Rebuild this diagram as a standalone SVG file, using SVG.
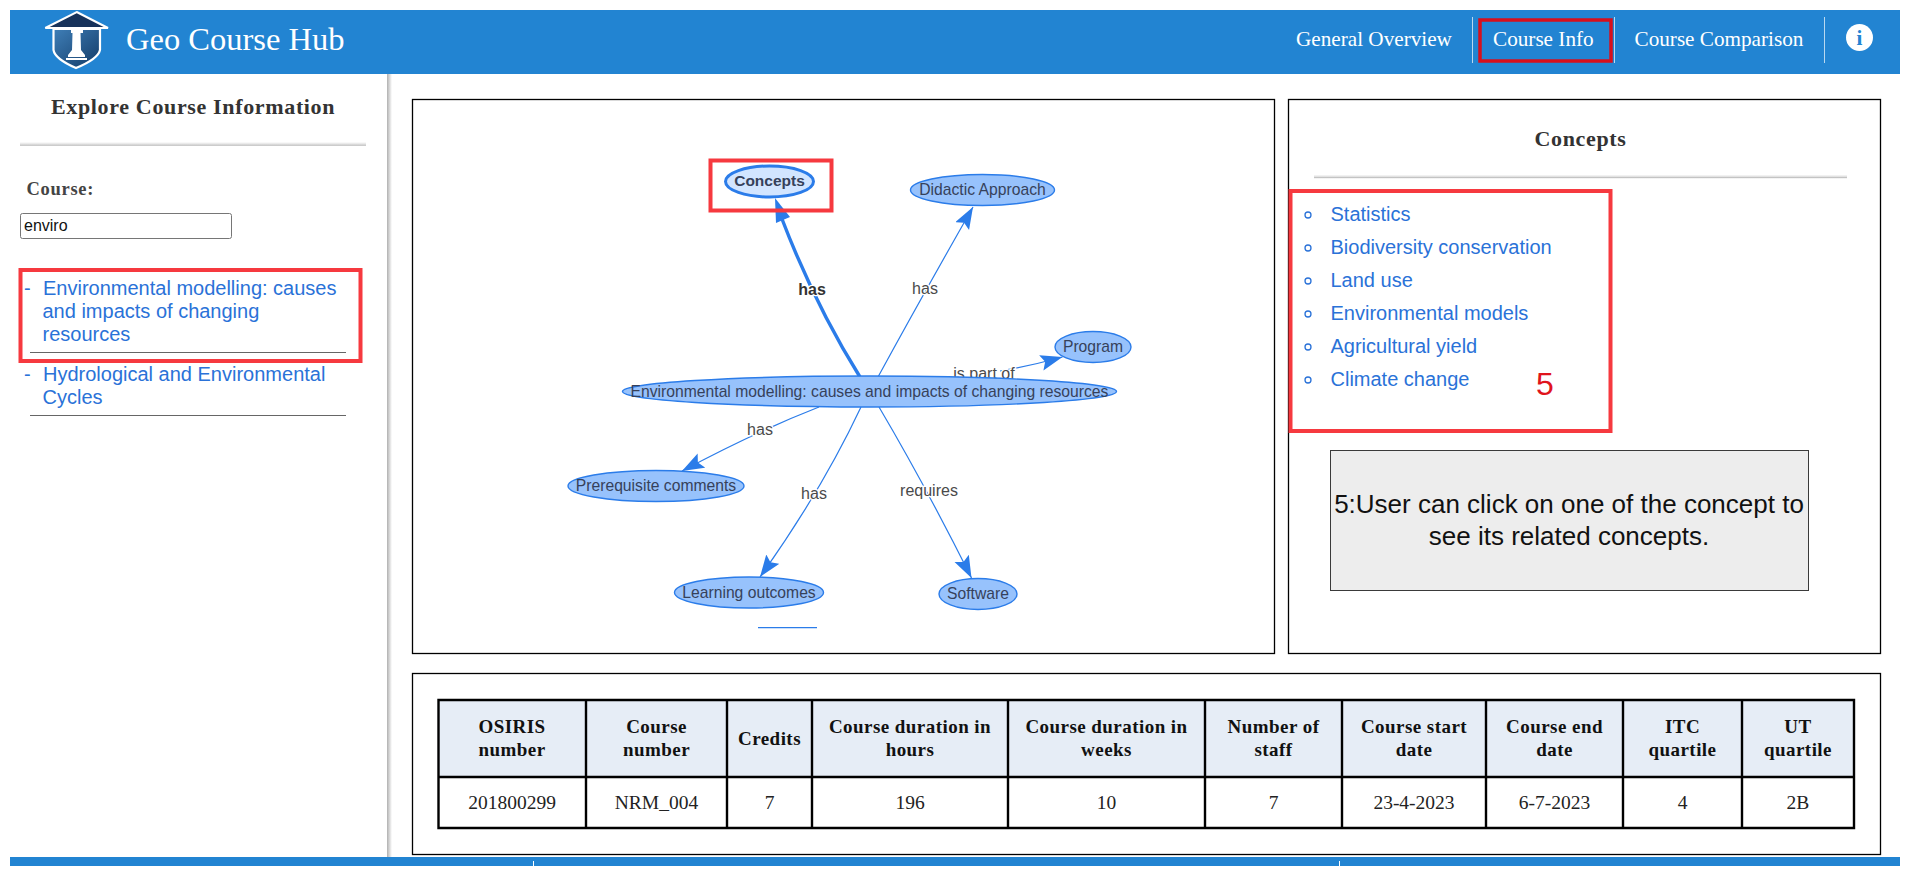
<svg xmlns="http://www.w3.org/2000/svg" width="1910" height="876" viewBox="0 0 1910 876">
<style>
text{font-family:"Liberation Sans",Arial,sans-serif}
.s{font-family:"Liberation Serif","Times New Roman",serif}
.nav{font-size:21.200px;fill:#fff}
.h{font-size:22px;font-weight:bold;fill:#333;letter-spacing:.65px}
.lnk{font-size:20px;fill:#2a72d8}
.panel{fill:#fff;stroke:#000;stroke-width:1.3}
.red{fill:none;stroke:#f6393f;stroke-width:4}
.node ellipse{fill:#97C2FC;stroke:#2B7CE9;stroke-width:1.4}
.node text{font-size:15.700px;fill:#36415a;text-anchor:middle}
.e{fill:none;stroke:#2B7CE9;stroke-width:1.2}
.el{font-size:16px;fill:#4a4a4a;text-anchor:middle;stroke:#fff;stroke-width:2.5px;paint-order:stroke}
.th{font-size:19px;font-weight:bold;fill:#111;text-anchor:middle;letter-spacing:.45px}
.td{font-size:19.500px;fill:#222;text-anchor:middle}
.cell{stroke:#000;stroke-width:2.4;fill:none}
.b{fill:none;stroke:#2a72d8;stroke-width:1.3}
</style>
<defs>
<linearGradient id="sh" x1="0" x2="1" y1="0" y2="0"><stop offset="0" stop-color="#b0b0b0"/><stop offset="1" stop-color="#fff"/></linearGradient>
<linearGradient id="hr" x1="0" x2="0" y1="0" y2="1"><stop offset="0" stop-color="#fff"/><stop offset=".6" stop-color="#ddd"/><stop offset=".8" stop-color="#bbb"/><stop offset="1" stop-color="#e8e8e8"/></linearGradient>
<linearGradient id="shield" x1="0" x2="1" y1="0" y2="1"><stop offset="0" stop-color="#3f7fb8"/><stop offset="1" stop-color="#123a66"/></linearGradient>
<marker id="ar" markerUnits="userSpaceOnUse" markerWidth="24" markerHeight="18" refX="22" refY="8" orient="auto"><path d="M0 0L22 8L0 16L4 8Z" fill="#2B7CE9"/></marker>
</defs>
<rect width="1910" height="876" fill="#fff"/>

<g id="header">
<rect x="10" y="10" width="1890" height="64" fill="#2284d2"/>
<g id="logo">
<path d="M53.500 29V50Q55 59 76 68Q98 59 100 50V29Z" fill="url(#shield)" stroke="#fff" stroke-width="2.200"/>
<path d="M76.700 12L108 28H45.300Z" fill="#17325a" stroke="#fff" stroke-width="2"/>
<path d="M71 30H83V33H80.500L81 50L85 55V57H68V55L72 50L72.500 33H71Z" fill="#fff"/>
<rect x="66" y="58" width="21" height="2" fill="#fff"/>
</g>
<text x="126" y="50" class="s" font-size="32.500" fill="#fff">Geo Course Hub</text>
<text x="1296" y="45.500" class="s nav">General Overview</text>
<path d="M1472.500 17V63M1614.500 17V63M1824.500 17V63" stroke="#b9d8f0" stroke-width="1"/>
<rect x="1480" y="20" width="131" height="41" fill="none" stroke="#d80f1c" stroke-width="3.500"/>
<text x="1493" y="45.500" class="s nav">Course Info</text>
<text x="1634.500" y="45.500" class="s nav">Course Comparison</text>
<circle cx="1859.500" cy="37.500" r="13.500" fill="#fff"/>
<text x="1859.500" y="45" class="s" font-size="21" font-weight="bold" fill="#2284d2" text-anchor="middle">i</text>
</g>

<g id="sidebar">
<rect x="387" y="74" width="5" height="783" fill="url(#sh)"/>
<text x="51" y="114" class="s h">Explore Course Information</text>
<rect x="20" y="142" width="346" height="4" fill="url(#hr)"/>
<text x="26.500" y="195" class="s" font-size="18.500" font-weight="bold" fill="#444" letter-spacing=".7">Course:</text>
<rect x="20.500" y="213.500" width="211" height="25" rx="2" fill="#fff" stroke="#767676" stroke-width="1"/>
<text x="24" y="231" font-size="16" fill="#111">enviro</text>
<rect class="red" x="20.500" y="270" width="340" height="91"/>
<text x="24" y="295" class="lnk">-</text>
<text x="43" y="295" class="lnk">Environmental modelling: causes</text>
<text x="42.500" y="318" class="lnk">and impacts of changing</text>
<text x="42.500" y="341" class="lnk">resources</text>
<path d="M30 352.500H346M30 415.500H346" stroke="#666" stroke-width="1"/>
<text x="24" y="381" class="lnk">-</text>
<text x="43" y="381" class="lnk">Hydrological and Environmental</text>
<text x="42.500" y="404" class="lnk">Cycles</text>
</g>

<rect class="panel" x="412.500" y="99.500" width="862" height="554"/>
<rect class="panel" x="1288.500" y="99.500" width="592" height="554"/>
<rect class="panel" x="412.500" y="673.500" width="1468" height="181"/>

<g id="connectors">
<path class="e" style="stroke-width:3.400" d="M860 377Q815 305 782 219"/>
<path d="M775 198L790 217L776 223Z" fill="#2B7CE9"/>
<path class="e" d="M878 377Q920 300 973 207" marker-end="url(#ar)"/>
<path class="e" d="M1000 371Q1030 366 1062.500 357" marker-end="url(#ar)"/>
<path class="e" d="M819 407Q755 432 682 471" marker-end="url(#ar)"/>
<path class="e" d="M861 407Q822 490 760 577" marker-end="url(#ar)"/>
<path class="e" d="M879 407Q925 485 971.500 578" marker-end="url(#ar)"/>
<text class="el" x="812" y="295" style="font-weight:bold;fill:#333">has</text>
<text class="el" x="925" y="294">has</text>
<text class="el" x="984" y="379">is part of</text>
<text class="el" x="760" y="435">has</text>
<text class="el" x="814" y="499">has</text>
<text class="el" x="929" y="496">requires</text>
</g>

<g id="node-concepts" class="node"><ellipse cx="769.500" cy="181.500" rx="44" ry="15.500" style="fill:#d2e5ff;stroke-width:3"/><text x="769.500" y="186" style="font-weight:bold;font-size:15.500px">Concepts</text></g>
<g id="node-didactic" class="node"><ellipse cx="982.500" cy="190" rx="72" ry="15.500"/><text x="982.500" y="195">Didactic Approach</text></g>
<g id="node-program" class="node"><ellipse cx="1093" cy="347" rx="38" ry="15.500"/><text x="1093" y="352">Program</text></g>
<g id="node-main" class="node"><ellipse cx="869.500" cy="391.500" rx="247" ry="15.500"/><text x="869.500" y="396.500">Environmental modelling: causes and impacts of changing resources</text></g>
<g id="node-prereq" class="node"><ellipse cx="656" cy="486" rx="88" ry="15.500"/><text x="656" y="491">Prerequisite comments</text></g>
<g id="node-learning" class="node"><ellipse cx="749" cy="592.500" rx="74.500" ry="15.500"/><text x="749" y="597.500">Learning outcomes</text></g>
<g id="node-software" class="node"><ellipse cx="978" cy="594" rx="39" ry="15.500"/><text x="978" y="599">Software</text></g>
<path id="node-clipped" d="M758 627.600H817" fill="none" stroke="#2B7CE9" stroke-width="1.200"/>
<rect class="red" x="710.500" y="160.500" width="121" height="50"/>

<g id="concepts-panel">
<text x="1580.500" y="145.500" class="s h" text-anchor="middle">Concepts</text>
<rect x="1314" y="174.500" width="533" height="4" fill="url(#hr)"/>
<rect class="red" x="1290.500" y="191" width="320" height="240"/>
<g class="b"><circle cx="1308" cy="215" r="3"/><circle cx="1308" cy="248" r="3"/><circle cx="1308" cy="281" r="3"/><circle cx="1308" cy="314" r="3"/><circle cx="1308" cy="347" r="3"/><circle cx="1308" cy="380" r="3"/></g>
<text x="1330.500" y="221" class="lnk">Statistics</text>
<text x="1330.500" y="254" class="lnk">Biodiversity conservation</text>
<text x="1330.500" y="287" class="lnk">Land use</text>
<text x="1330.500" y="320" class="lnk">Environmental models</text>
<text x="1330.500" y="353" class="lnk">Agricultural yield</text>
<text x="1330.500" y="386" class="lnk">Climate change</text>
<text x="1536" y="395" font-size="32" fill="#e0141c">5</text>
</g>

<g id="note">
<rect x="1330.500" y="450.500" width="478" height="140" fill="#ededed" stroke="#3a3a3a" stroke-width="1"/>
<text x="1569" y="512.500" font-size="26" fill="#111" text-anchor="middle">5:User can click on one of the concept to</text>
<text x="1569" y="544.500" font-size="26" fill="#111" text-anchor="middle">see its related concepts.</text>
</g>

<g id="table">
<rect x="438.500" y="700" width="1415.500" height="77" fill="#e6edf6"/>
<path class="cell" d="M438.500 700H1854V828H438.500ZM438.500 777H1854M586 700V828M727 700V828M812 700V828M1008 700V828M1205 700V828M1342 700V828M1486 700V828M1623 700V828M1742 700V828"/>
<text class="s th" x="512" y="733">OSIRIS</text><text class="s th" x="512" y="756">number</text>
<text class="s th" x="656.500" y="733">Course</text><text class="s th" x="656.500" y="756">number</text>
<text class="s th" x="769.500" y="745">Credits</text>
<text class="s th" x="910" y="733">Course duration in</text><text class="s th" x="910" y="756">hours</text>
<text class="s th" x="1106.500" y="733">Course duration in</text><text class="s th" x="1106.500" y="756">weeks</text>
<text class="s th" x="1273.500" y="733">Number of</text><text class="s th" x="1273.500" y="756">staff</text>
<text class="s th" x="1414" y="733">Course start</text><text class="s th" x="1414" y="756">date</text>
<text class="s th" x="1554.500" y="733">Course end</text><text class="s th" x="1554.500" y="756">date</text>
<text class="s th" x="1682.500" y="733">ITC</text><text class="s th" x="1682.500" y="756">quartile</text>
<text class="s th" x="1798" y="733">UT</text><text class="s th" x="1798" y="756">quartile</text>
<text class="s td" x="512" y="809">201800299</text>
<text class="s td" x="656.500" y="809">NRM_004</text>
<text class="s td" x="769.500" y="809">7</text>
<text class="s td" x="910" y="809">196</text>
<text class="s td" x="1106.500" y="809">10</text>
<text class="s td" x="1273.500" y="809">7</text>
<text class="s td" x="1414" y="809">23-4-2023</text>
<text class="s td" x="1554.500" y="809">6-7-2023</text>
<text class="s td" x="1682.500" y="809">4</text>
<text class="s td" x="1798" y="809">2B</text>
</g>

<g id="footer">
<rect x="10" y="857" width="1890" height="9" fill="#2284d2"/>
<path d="M533.500 861V866M1339.500 861V866" stroke="#fff" stroke-width="1"/>
</g>
</svg>
